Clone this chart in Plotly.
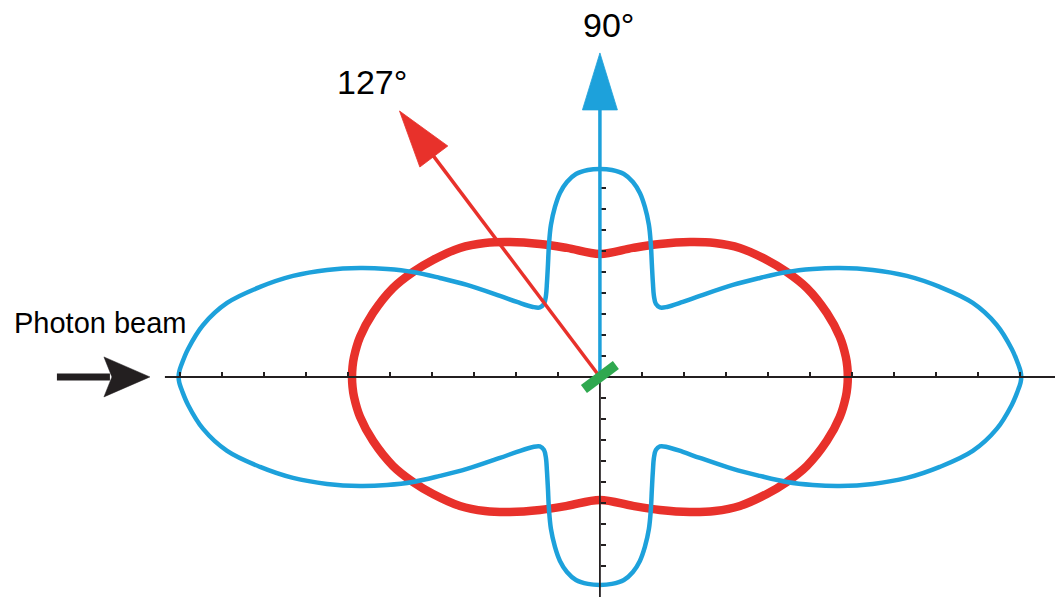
import math
import plotly.graph_objects as go

# ---- figure geometry -------------------------------------------------------
W, H = 1055, 597
X_RANGE = [-14.29, 10.84]
Y_RANGE = [-10.48, 17.95]
SX = W / (X_RANGE[1] - X_RANGE[0])   # px per x unit
SY = H / (Y_RANGE[1] - Y_RANGE[0])   # px per y unit

# ---- angular distributions (one quadrant, top -> beam axis) ----------------
blue_x = [0.0, 0.286, 0.571, 0.786, 0.952, 1.071, 1.167, 1.214, 1.238, 1.262,
          1.286, 1.333, 1.429, 1.595, 1.976, 2.381, 3.167, 3.810, 4.452, 5.071,
          5.714, 6.5, 7.310, 8.095, 8.881, 9.452, 9.810, 9.952, 10.02, 10.036]
blue_y = [9.905, 9.857, 9.667, 9.286, 8.762, 8.095, 7.238, 6.286, 5.333, 4.476,
          3.857, 3.476, 3.310, 3.333, 3.571, 3.857, 4.381, 4.714, 5.0, 5.143,
          5.190, 5.095, 4.810, 4.286, 3.524, 2.476, 1.333, 0.667, 0.262, 0.0]

red_x = [0.0, 0.786, 1.429, 2.143, 2.738, 3.333, 3.976, 4.452, 4.929, 5.405,
         5.714, 5.857, 5.893, 5.905]
red_y = [5.857, 6.143, 6.333, 6.429, 6.381, 6.143, 5.571, 5.0, 4.238, 3.048,
         1.905, 0.952, 0.476, 0.0]

# ticks along both axes
x_ticks = [-10, -9, -8, -7, -6, -5, -4, -3, -2, -1, 1, 2, 3, 4, 5, 6, 7, 8, 9, 10]
y_ticks = [-9, -8, -7, -6, -5, -4, -3, -2, -1, 1, 2, 3, 4, 5, 6, 7, 8, 9]

# emission directions (degrees, measured from the beam axis)
detector_angles = [127, 90]
labels = ["127°", "90°"]

BLUE = "#1DA1DB"
RED = "#E8312B"
GREEN = "#2FA84F"
INK = "#231F20"


def full_curve(qx, qy):
    """Mirror a quadrant into a closed, symmetric outline."""
    xs, ys = list(qx), list(qy)
    xs += [x for x in reversed(qx[:-1])]
    ys += [-y for y in reversed(qy[:-1])]
    xs += [-x for x in qx[1:]]
    ys += [-y for y in qy[1:]]
    xs += [-x for x in reversed(qx[:-1])]
    ys += [y for y in reversed(qy[:-1])]
    return xs, ys


def px(dx, dy):
    """Pixel offset from the origin (dy downward) -> data units."""
    return dx / SX, -dy / SY


def polar_px(r, deg):
    a = math.radians(deg)
    return r * math.cos(a) / SX, r * math.sin(a) / SY


def path(points):
    return "M " + " L ".join(f"{x:.4f},{y:.4f}" for x, y in points) + " Z"


fig = go.Figure()

rx, ry = full_curve(red_x, red_y)
fig.add_trace(go.Scatter(x=rx, y=ry, mode="lines",
                         line=dict(color=RED, width=8.5, shape="spline", smoothing=1.0),
                         hoverinfo="skip", showlegend=False))
bx, by = full_curve(blue_x, blue_y)
fig.add_trace(go.Scatter(x=bx, y=by, mode="lines",
                         line=dict(color=BLUE, width=4.5, shape="spline", smoothing=1.0),
                         hoverinfo="skip", showlegend=False))

shapes = []


def arrow(deg, length, color, head_len=57, head_half=17.5, shaft=3.5):
    base = length - head_len
    sx_, sy_ = polar_px(base + 2, deg)
    shapes.append(dict(type="line", xref="x", yref="y", x0=0, y0=0, x1=sx_, y1=sy_,
                       line=dict(color=color, width=shaft), layer="above"))
    tip = polar_px(length, deg)
    bxc, byc = polar_px(base, deg)
    ox, oy = polar_px(head_half, deg + 90)
    shapes.append(dict(type="path", xref="x", yref="y",
                       path=path([tip, (bxc + ox, byc + oy), (bxc - ox, byc - oy)]),
                       fillcolor=color, line=dict(color=color, width=0.8), layer="above"))


arrow(detector_angles[0], 333, RED)

# beam axis
ax0 = px(-435, 0)
shapes.append(dict(type="line", xref="x", yref="y", x0=ax0[0], y0=0, x1=X_RANGE[1], y1=0,
                   line=dict(color=INK, width=2), layer="above"))
# lower half of the vertical axis
shapes.append(dict(type="line", xref="x", yref="y", x0=0, y0=0, x1=0, y1=Y_RANGE[0],
                   line=dict(color=INK, width=1.8), layer="above"))

arrow(detector_angles[1], 324, BLUE)

# incoming photon beam arrow
s0, s1 = px(-543, 0), px(-490, 0)
shapes.append(dict(type="line", xref="x", yref="y", x0=s0[0], y0=0, x1=s1[0], y1=0,
                   line=dict(color=INK, width=7), layer="above"))
shapes.append(dict(type="path", xref="x", yref="y",
                   path=path([px(-450, 0), px(-496, -20), px(-488, 0), px(-496, 20)]),
                   fillcolor=INK, line=dict(color=INK, width=0.5), layer="above"))

# target foil, perpendicular to the 127° direction
g1 = polar_px(20, detector_angles[0] - 90)
g2 = polar_px(-20, detector_angles[0] - 90)
shapes.append(dict(type="line", xref="x", yref="y", x0=g2[0], y0=g2[1], x1=g1[0], y1=g1[1],
                   line=dict(color=GREEN, width=10), layer="above"))

FONT = "Liberation Sans, Arial, sans-serif"
annotations = [
    dict(text=labels[1], x=608 / W, y=1 - 25 / H, xref="paper", yref="paper",
         showarrow=False, xanchor="center", yanchor="middle",
         font=dict(family=FONT, size=34, color="black")),
    dict(text=labels[0], x=372 / W, y=1 - 82 / H, xref="paper", yref="paper",
         showarrow=False, xanchor="center", yanchor="middle",
         font=dict(family=FONT, size=34, color="black")),
    dict(text="Photon beam", x=100 / W, y=1 - 323 / H, xref="paper", yref="paper",
         showarrow=False, xanchor="center", yanchor="middle",
         font=dict(family=FONT, size=29, color="black")),
]

x_pos = -X_RANGE[0] / (X_RANGE[1] - X_RANGE[0])
y_pos = -Y_RANGE[0] / (Y_RANGE[1] - Y_RANGE[0])

fig.update_layout(
    width=W, height=H,
    margin=dict(l=0, r=0, t=0, b=0),
    paper_bgcolor="white", plot_bgcolor="white",
    showlegend=False,
    shapes=shapes,
    annotations=annotations,
    xaxis=dict(range=X_RANGE, showgrid=False, zeroline=False, showline=False,
               anchor="free", position=y_pos, ticks="inside", ticklen=5,
               tickwidth=1.5, tickcolor=INK, tickvals=x_ticks,
               showticklabels=False, layer="above traces", fixedrange=True),
    yaxis=dict(range=Y_RANGE, showgrid=False, zeroline=False, showline=False,
               anchor="free", position=x_pos, ticks="inside", ticklen=5,
               tickwidth=1.5, tickcolor=INK, tickvals=y_ticks,
               showticklabels=False, layer="above traces", fixedrange=True),
)

fig.write_html("out.html")
